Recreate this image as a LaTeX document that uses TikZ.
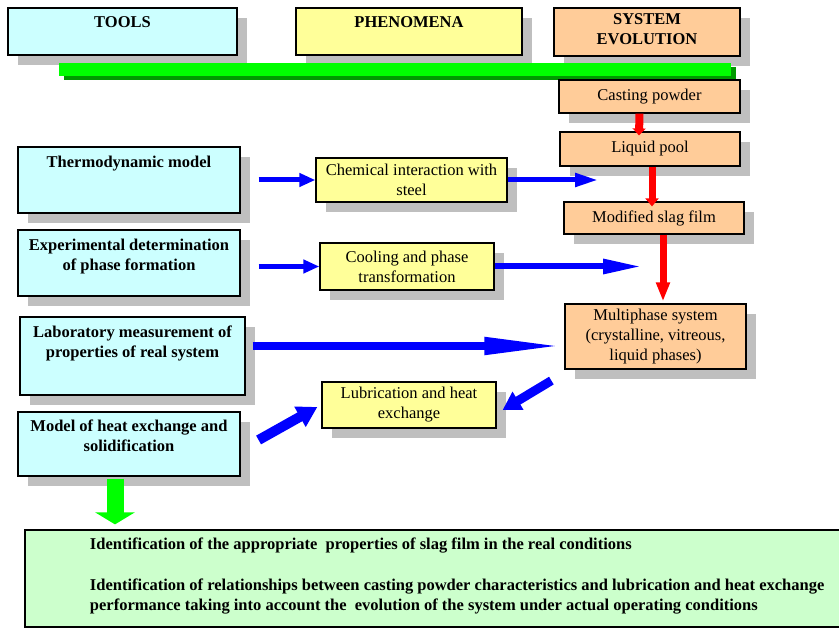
\documentclass[tikz,border=0pt]{standalone}
\usepackage{fontspec}
\setmainfont{Liberation Serif}
\usetikzlibrary{shadows,arrows.meta}

\definecolor{toolcyan}{HTML}{CCFFFF}
\definecolor{phenyellow}{HTML}{FFFF99}
\definecolor{evolpeach}{HTML}{FFCC99}
\definecolor{resultgreen}{HTML}{CCFFCC}
\definecolor{shadowgray}{HTML}{BFBFBF}
\definecolor{bargreen}{HTML}{00FF00}
\definecolor{bardark}{HTML}{009900}
\definecolor{arrowblue}{HTML}{0000FF}
\definecolor{arrowred}{HTML}{FF0000}

% text box with the lines at the top
\newcommand{\topalign}[4]{\parbox[c][#2][t]{#1}{\vspace*{#3}\centering #4\par}}

\tikzset{
  shadowbox/.style={draw=black, line width=1.2pt, inner sep=0pt,
    drop shadow={shadow xshift=10pt, shadow yshift=-10pt, fill=shadowgray, opacity=1}},
  headbox/.style={shadowbox, font=\fontsize{16.5}{20}\selectfont\bfseries},
  toolbox/.style={shadowbox, fill=toolcyan, font=\fontsize{16.5}{20}\selectfont\bfseries},
  phenbox/.style={shadowbox, fill=phenyellow, align=center, font=\fontsize{16.5}{20}\selectfont},
  evolbox/.style={shadowbox, fill=evolpeach, align=center, font=\fontsize{16.5}{20}\selectfont},
  resultbox/.style={draw=black, line width=1.2pt, inner sep=0pt, fill=resultgreen,
    font=\bfseries\fontsize{16.5}{20}\selectfont},
  bluearrow/.style n args={3}{draw=arrowblue, line width=#1, -{Triangle[length=#2, width=#3]}},
  redarrow/.style n args={3}{draw=arrowred, line width=#1, -{Triangle[length=#2, width=#3]}},
  greenarrow/.style={draw=bargreen, line width=17pt, -{Triangle[length=12pt, width=39pt]}}
}

\begin{document}
\begin{tikzpicture}[x=1pt, y=-1pt]
	\useasboundingbox (0,0) rectangle (839,628);

	% column heads
	\node[headbox, fill=toolcyan] (toolshead) at (122.5,31.5) {\topalign{229pt}{47pt}{8.5pt}{TOOLS}};
	\node[headbox, fill=phenyellow] (phenhead) at (409,31.5) {\topalign{226pt}{47pt}{8.5pt}{PHENOMENA}};
	\node[headbox, fill=evolpeach] (evolhead) at (647,32) {\topalign{186pt}{48pt}{6pt}{SYSTEM\\EVOLUTION}};

	% green bar
	\fill[bardark] (64,67) rectangle (736,80);
	\fill[bargreen] (59,63) rectangle (731,76);

	% tools
	\node[toolbox] (thermo) at (129,180) {\topalign{222pt}{66pt}{9pt}{Thermodynamic model}};
	\node[toolbox] (exper) at (129,263) {\topalign{222pt}{66pt}{9pt}{Experimental determination\\of phase formation}};
	\node[toolbox] (lab) at (132.5,356) {\topalign{225pt}{78pt}{9pt}{Laboratory measurement of\\properties of real system}};
	\node[toolbox] (heat) at (129,444) {\topalign{222pt}{64pt}{8pt}{Model of heat exchange and\\solidification}};

	% phenomena
	\node[phenbox, minimum width=191pt, minimum height=44pt] (chem) at (411.5,180) {Chemical interaction with\\steel};
	\node[phenbox, minimum width=174pt, minimum height=47pt] (cool) at (407,266.5) {Cooling and phase\\transformation};
	\node[phenbox, minimum width=174pt, minimum height=46pt] (lub) at (409,405) {Lubrication and heat\\exchange};

	% system evolution
	\node[evolbox, minimum width=181pt, minimum height=33pt] (casting) at (649.5,96.5) {Casting powder};
	\node[evolbox, minimum width=180pt, minimum height=34pt] (pool) at (650,149) {Liquid pool};
	\node[evolbox, minimum width=180pt, minimum height=32pt] (slag) at (654,218) {Modified slag film};
	\node[evolbox, minimum width=181pt, minimum height=65pt] (multi) at (655.5,336.5) {Multiphase system\\(crystalline, vitreous,\\liquid phases)};

	% result
	\node[resultbox] (result) at (440,578.5) {\parbox[c][97pt][t]{830pt}{\raggedright\leftskip=65pt\vspace*{7.5pt}%
		Identification of the appropriate\ \ properties of slag film in the real conditions\par\vspace{21pt}%
		Identification of relationships between casting powder characteristics and lubrication and heat exchange\\
		performance taking into account the\ \ evolution of the system under actual operating conditions\par}};

	% blue arrows
	\coordinate (chemout) at (598,180);
	\coordinate (coolout) at (642,266.5);
	\draw[bluearrow={5pt}{16pt}{13pt}, shorten <=18pt] (thermo.east) -- (chem.west);
	\draw[bluearrow={5pt}{23pt}{13pt}] (chem.east) -- (chemout);
	\draw[bluearrow={5pt}{16pt}{13pt}, shorten <=18pt] (exper.east |- cool.west) -- (cool.west);
	\draw[bluearrow={6pt}{39pt}{14pt}] (cool.east) -- (coolout);
	\draw[bluearrow={8pt}{80pt}{16pt}, shorten <=7pt] ([yshift=10pt]lab.east) -- ([yshift=-9.5pt]multi.west);
	\draw[bluearrow={10pt}{20pt}{22pt}] ([xshift=18pt,yshift=4pt]heat.east) -- ([xshift=-4pt,yshift=-2pt]lub.west);
	\draw[bluearrow={9pt}{18pt}{20pt}] ([xshift=-13pt,yshift=-11pt]multi.south west) -- ([xshift=6pt,yshift=-5pt]lub.east);

	% red arrows
	\draw[redarrow={8pt}{7pt}{13pt}] ([xshift=-10pt]casting.south) -- ([xshift=-11pt,yshift=-4pt]pool.north);
	\draw[redarrow={7pt}{8pt}{13pt}] ([xshift=2pt]pool.south) -- ([xshift=-2pt,yshift=-5pt]slag.north);
	\draw[redarrow={7pt}{19pt}{13pt}] ([xshift=9pt]slag.south) -- ([xshift=7.5pt,yshift=2pt]multi.north);

	% green arrow
	\coordinate (greentop) at ([xshift=-14pt,yshift=-2pt]heat.south);
	\draw[greenarrow, shorten >=5pt] (greentop) -- (greentop |- result.north);
\end{tikzpicture}
\end{document}
